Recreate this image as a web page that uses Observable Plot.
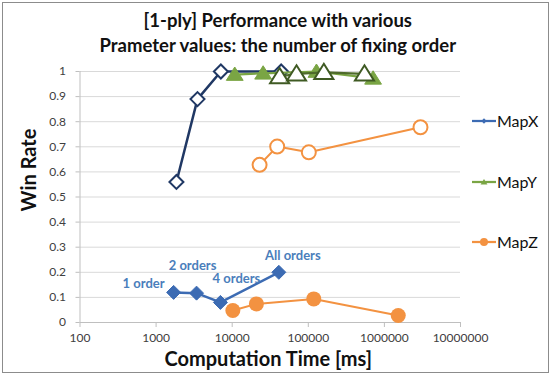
<!DOCTYPE html>
<html><head><meta charset="utf-8">
<script src="https://cdn.jsdelivr.net/npm/d3@7"></script>
<script src="https://cdn.jsdelivr.net/npm/@observablehq/plot@0.6"></script>
<style>
body{margin:0;background:#fff;}
#wrap{position:relative;width:551px;height:375px;overflow:hidden;font-family:Lato,sans-serif;}
#frame{position:absolute;left:2px;top:2px;width:545px;height:369px;border:1px solid #8c8c8c;pointer-events:none;}
#legend{position:absolute;left:0;top:0;pointer-events:none;}
</style></head><body><div id="wrap"><div id="frame"></div></div>
<script>
// ---- data ----
const titleLines = ["[1-ply] Performance with various", "Prameter values: the number of fixing order"];
const xTitle = "Computation Time [ms]";
const yTitle = "Win Rate";
const seriesNames = ["MapX", "MapY", "MapZ"];
const orderLabels = ["1 order", "2 orders", "4 orders", "All orders"];
const xTicks = [100, 1000, 10000, 100000, 1000000, 10000000];
const yTicks = [0, 0.1, 0.2, 0.3, 0.4, 0.5, 0.6, 0.7, 0.8, 0.9, 1];

const mapXFilledTime = [1700, 3400, 7000, 41000];
const mapXFilledRate = [0.12, 0.117, 0.08, 0.2];
const mapXHollowTime = [1850, 3500, 7100, 44000];
const mapXHollowRate = [0.56, 0.89, 1.0, 1.0];
const mapYFilledTime = [10800, 25500, 128000, 710000];
const mapYFilledRate = [0.988, 0.993, 1.0, 0.973];
const mapYHollowTime = [42000, 70000, 160000, 547000];
const mapYHollowRate = [0.98, 0.991, 0.997, 0.991];
const mapZFilledTime = [10200, 20800, 118000, 1520000];
const mapZFilledRate = [0.048, 0.074, 0.094, 0.028];
const mapZHollowTime = [22900, 39000, 101600, 2980000];
const mapZHollowRate = [0.628, 0.701, 0.678, 0.778];

// ---- styles ----
const C = {
  xFill: "#3C6BB3", xHollow: "#203864", label: "#4A7EBB",
  yFill: "#7AA544", yHollow: "#3F5A23", yHollowLine: "#4E6B2A",
  z: "#F39241", grid: "#d9d9d9", axis: "#bfbfbf", tickText: "#404040"
};
const labelOffsets = [
  {dx: -9, dy: -9, anchor: "end"},
  {dx: -4, dy: -27, anchor: "middle"},
  {dx: 16, dy: -24, anchor: "middle"},
  {dx: 14, dy: -16, anchor: "middle"}
];

const diamond = {draw(ctx, size){const h = Math.sqrt(size / Math.PI); ctx.moveTo(0,-h); ctx.lineTo(h,0); ctx.lineTo(0,h); ctx.lineTo(-h,0); ctx.closePath();}};
const triangle = {draw(ctx, size){const h = Math.sqrt(size / Math.PI); ctx.moveTo(0,-h); ctx.lineTo(h*1.12,h*0.78); ctx.lineTo(-h*1.12,h*0.78); ctx.closePath();}};

const rows = (t, r) => t.map((v, i) => ({t: v, r: r[i], label: orderLabels[i]}));
const xF = rows(mapXFilledTime, mapXFilledRate);
const xH = rows(mapXHollowTime, mapXHollowRate);
const yF = rows(mapYFilledTime, mapYFilledRate);
const yH = rows(mapYHollowTime, mapYHollowRate);
const zF = rows(mapZFilledTime, mapZFilledRate);
const zH = rows(mapZHollowTime, mapZHollowRate);

const chart = Plot.plot({
  width: 551, height: 375,
  marginLeft: 79.5, marginRight: 91, marginTop: 71, marginBottom: 53,
  style: {fontFamily: "Lato, sans-serif", fontSize: "12px", background: "transparent", overflow: "visible"},
  x: {type: "log", domain: [100, 10000000]},
  y: {domain: [0, 1]},
  marks: [
    Plot.ruleY(yTicks.slice(1), {stroke: C.grid, strokeWidth: 1}),
    Plot.ruleY([0], {stroke: C.axis}),
    Plot.ruleX([100], {stroke: C.axis}),
    Plot.axisY({ticks: yTicks, tickSize: 4, tickPadding: 10, tickFormat: d => String(+d.toFixed(1)), stroke: C.axis, fill: C.tickText, label: null, fontSize: 12}),
    Plot.axisX({ticks: xTicks, tickSize: 5, tickPadding: 6, tickFormat: d3.format("d"), stroke: C.axis, fill: C.tickText, label: null, fontSize: 12}),
    // MapX
    Plot.line(xH, {x: "t", y: "r", stroke: C.xHollow, strokeWidth: 2.5}),
    Plot.dot(xH, {x: "t", y: "r", symbol: diamond, r: 7, fill: "white", stroke: C.xHollow, strokeWidth: 2}),
    Plot.line(xF, {x: "t", y: "r", stroke: C.xFill, strokeWidth: 2.5}),
    Plot.dot(xF, {x: "t", y: "r", symbol: diamond, r: 7, fill: C.xFill, stroke: C.xFill, strokeWidth: 1}),
    ...labelOffsets.map((o, k) => Plot.text(xF, {filter: (d, i) => i === k, x: "t", y: "r", text: "label", dx: o.dx, dy: o.dy, textAnchor: o.anchor, fill: C.label, fontSize: 13, fontWeight: "bold"})),
    // MapY
    Plot.line(yF, {x: "t", y: "r", stroke: C.yFill, strokeWidth: 2.25}),
    Plot.dot(yF, {x: "t", y: "r", symbol: triangle, r: 7.5, fill: C.yFill, stroke: C.yFill, strokeWidth: 1}),
    Plot.line(yH, {x: "t", y: "r", stroke: C.yHollowLine, strokeWidth: 2.25}),
    Plot.dot(yH, {x: "t", y: "r", symbol: triangle, r: 8.5, fill: "white", stroke: C.yHollow, strokeWidth: 2}),
    // MapZ
    Plot.line(zH, {x: "t", y: "r", stroke: C.z, strokeWidth: 2}),
    Plot.dot(zH, {x: "t", y: "r", r: 7, fill: "white", stroke: C.z, strokeWidth: 2}),
    Plot.line(zF, {x: "t", y: "r", stroke: C.z, strokeWidth: 2}),
    Plot.dot(zF, {x: "t", y: "r", r: 7.5, fill: C.z}),
    // titles
    Plot.text([titleLines[0]], {frameAnchor: "top", dx: 7.5, dy: -50, fontSize: 18.5, fontWeight: "bold", fill: "#111", lineAnchor: "middle"}),
    Plot.text([titleLines[1]], {frameAnchor: "top", dx: 7.5, dy: -25, fontSize: 18.5, fontWeight: "bold", fill: "#111", lineAnchor: "middle"}),
    Plot.text([xTitle], {frameAnchor: "bottom", dx: -2, dy: 37.5, fontSize: 20, fontWeight: "bold", fill: "#111", lineAnchor: "middle"}),
    Plot.text([yTitle], {frameAnchor: "left", textAnchor: "start", dx: -50.5, dy: 14.5, rotate: -90, fontSize: 20, fontWeight: "bold", fill: "#111", lineAnchor: "middle"})
  ]
});
document.getElementById("wrap").prepend(chart);

// legend
const legendRows = [
  {name: seriesNames[0], color: C.xFill, sym: d3.symbol(diamond, 22)},
  {name: seriesNames[1], color: C.yFill, sym: d3.symbol(triangle, 30)},
  {name: seriesNames[2], color: C.z, sym: d3.symbol(d3.symbolCircle, 50)}
];
const legendY = [121, 182, 242];
const lg = d3.select("#wrap").append("svg").attr("id", "legend").attr("width", 551).attr("height", 375);
legendRows.forEach((d, i) => {
  const g = lg.append("g").attr("transform", `translate(0,${legendY[i]})`);
  g.append("line").attr("x1", 472).attr("x2", 496).attr("stroke", d.color).attr("stroke-width", 2.25);
  g.append("path").attr("d", d.sym()).attr("transform", "translate(484,0)").attr("fill", d.color);
  g.append("text").attr("x", 497).attr("dy", "0.35em").attr("font-family", "Lato, sans-serif").attr("font-size", 16).attr("fill", "#111").text(d.name);
});
</script></body></html>
